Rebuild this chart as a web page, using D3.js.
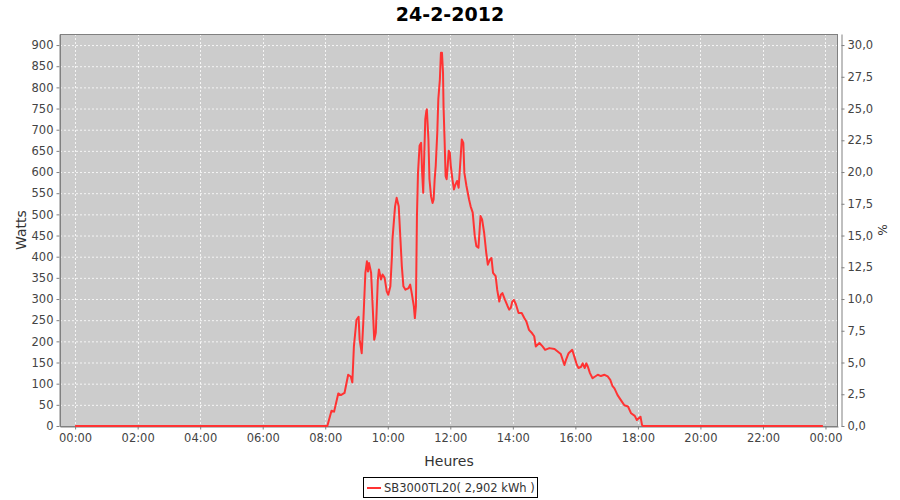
<!DOCTYPE html>
<html><head><meta charset="utf-8">
<script src="https://cdn.jsdelivr.net/npm/d3@7"></script>
<style>body{margin:0;background:#fff}</style>
</head><body>
<svg id="c" width="900" height="500"></svg>
<script>
const title = "24-2-2012";
const seriesName = "SB3000TL20( 2,902 kWh )";
const xTitle = "Heures";
const yTitle = "Watts";
const y2Title = "%";
const times = ["00:00","08:04","08:12","08:17","08:25","08:30","08:37","08:44","08:49","08:52","08:55","09:00","09:04","09:06","09:10","09:13","09:17","09:20","09:22","09:24","09:28","09:31","09:34","09:37","09:41","09:43","09:47","09:50","09:54","09:58","10:01","10:05","10:08","10:09","10:14","10:17","10:21","10:24","10:27","10:30","10:34","10:40","10:43","10:46","10:50","10:52","10:54","10:56","10:58","11:01","11:04","11:06","11:08","11:09","11:12","11:14","11:15","11:18","11:20","11:23","11:26","11:28","11:30","11:32","11:35","11:37","11:40","11:42","11:44","11:46","11:47","11:49","11:51","11:53","11:55","11:57","11:59","12:01","12:04","12:07","12:10","12:13","12:16","12:20","12:22","12:25","12:27","12:31","12:36","12:39","12:43","12:47","12:50","12:54","12:58","13:01","13:05","13:09","13:12","13:16","13:19","13:22","13:27","13:30","13:34","13:37","13:40","13:45","13:50","13:53","13:56","13:59","14:02","14:06","14:11","14:17","14:22","14:26","14:31","14:37","14:41","14:44","14:51","14:57","15:02","15:10","15:20","15:26","15:32","15:39","15:42","15:47","15:54","15:58","16:03","16:06","16:11","16:14","16:18","16:21","16:24","16:28","16:33","16:38","16:43","16:49","16:56","17:02","17:07","17:11","17:15","17:21","17:28","17:34","17:41","17:47","17:54","17:58","18:05","18:08","18:10","23:55"];
const watts = [0,0,36,34,77,73,78,121,117,103,188,251,258,204,172,244,362,389,365,385,362,283,204,220,346,370,346,358,350,318,310,330,401,441,519,539,519,448,377,330,322,326,334,314,283,255,283,496,598,662,669,598,551,598,725,744,748,677,583,543,527,535,583,614,693,772,819,882,882,835,756,677,590,583,614,650,646,614,583,559,571,579,563,638,677,669,598,567,535,519,504,448,425,421,496,488,456,409,381,393,397,362,354,322,294,310,314,298,283,275,279,294,298,287,267,267,255,247,227,219,212,188,196,188,180,184,182,176,170,144,156,172,180,164,144,137,140,148,137,148,140,125,113,117,121,118,121,117,109,95,89,73,60,49,46,30,24,14,22,2,0,0];
const xTickLabels = ["00:00","02:00","04:00","06:00","08:00","10:00","12:00","14:00","16:00","18:00","20:00","22:00","00:00"];
const yTickValues = [0,50,100,150,200,250,300,350,400,450,500,550,600,650,700,750,800,850,900];
const pctTickValues = [0,2.5,5,7.5,10,12.5,15,17.5,20,22.5,25,27.5,30];

const toMin = s => { const [h,m] = s.split(":").map(Number); return h*60+m; };
const data = times.map((t,i)=>({t:toMin(t), w:watts[i]}));

const L=60, R=838, T=34, B=426;
const svg = d3.select("#c");
const font = "DejaVu Sans, sans-serif";

const tMin = d3.min(data,d=>d.t), tMax = d3.max(data,d=>d.t);
const x = d3.scaleLinear().domain([tMin-29, tMax+29]).range([L,R]);
const yMax = d3.max(watts)*1.05;
const y = d3.scaleLinear().domain([0,yMax]).range([B,T]);
const y2 = d3.scaleLinear().domain([0,yMax/30]).range([B,T]);

// title
svg.append("text").attr("x",450).attr("y",21).attr("text-anchor","middle")
  .attr("font-family",font).attr("font-weight","bold").attr("font-size",19).attr("fill","#000").text(title);

// plot background
svg.append("rect").attr("x",L).attr("y",T).attr("width",R-L).attr("height",B-T).attr("fill","#cccccc");

// grid
const g = svg.append("g");
g.selectAll(".hg").data(yTickValues).join("line")
  .attr("x1",L).attr("x2",R).attr("y1",d=>y(d)+0.5).attr("y2",d=>y(d)+0.5)
  .attr("stroke","#fff").attr("stroke-width",0.8).attr("stroke-dasharray","2,2");
const xTickVals = xTickLabels.map((s,i)=>i*120);
g.selectAll(".vg").data(xTickVals).join("line")
  .attr("y1",T).attr("y2",B).attr("x1",d=>Math.round(x(d))+0.5).attr("x2",d=>Math.round(x(d))+0.5)
  .attr("stroke","#fff").attr("stroke-width",0.8).attr("stroke-dasharray","2,2");

// outline
svg.append("rect").attr("x",L+0.5).attr("y",T+0.5).attr("width",R-L-1).attr("height",B-T).attr("fill","none").attr("stroke","#808080").attr("stroke-width",1);

function styleAxis(sel){
  sel.select(".domain").attr("stroke","#808080");
  sel.selectAll(".tick line").attr("stroke","#808080");
  sel.selectAll(".tick text").attr("fill","#444").attr("font-family",font).attr("font-size",11.5);
}
// left axis
const ya = svg.append("g").attr("transform",`translate(${L-0.5},0)`)
  .call(d3.axisLeft(y).tickValues(yTickValues).tickSize(3).tickPadding(3).tickSizeOuter(0));
styleAxis(ya);
// right axis
const fmtPct = d => d3.format(".1f")(d).replace(".",",");
const y2a = svg.append("g").attr("transform",`translate(${R+3.5},0)`)
  .call(d3.axisRight(y2).tickValues(pctTickValues).tickFormat(fmtPct).tickSize(3).tickPadding(3).tickSizeOuter(0));
styleAxis(y2a);
// bottom axis
const xa = svg.append("g").attr("transform",`translate(0,${B+0.5})`)
  .call(d3.axisBottom(x).tickValues(xTickVals).tickFormat((d,i)=>xTickLabels[i]).tickSize(3).tickPadding(4).tickSizeOuter(0));
styleAxis(xa);

// line (on top, so the zero segments stay visible)
svg.append("clipPath").attr("id","cp").append("rect").attr("x",L).attr("y",T-2).attr("width",R-L).attr("height",B-T+4);
svg.append("path").datum(data).attr("clip-path","url(#cp)")
  .attr("d", d3.line().x(d=>x(d.t)).y(d=>y(d.w)))
  .attr("fill","none").attr("stroke","#ff3333").attr("stroke-width",2).attr("stroke-linejoin","round");

// axis titles
svg.append("text").attr("transform","translate(26,230) rotate(-90)").attr("text-anchor","middle")
  .attr("font-family",font).attr("font-size",14).attr("fill","#333").text(yTitle);
svg.append("text").attr("transform","translate(878,230) rotate(90)").attr("text-anchor","middle")
  .attr("font-family",font).attr("font-size",12).attr("fill","#333").text(y2Title);
svg.append("text").attr("x",449).attr("y",466).attr("text-anchor","middle")
  .attr("font-family",font).attr("font-size",14).attr("fill","#333").text(xTitle);

// legend
const lg = svg.append("g");
lg.append("rect").attr("x",363.5).attr("y",477.5).attr("width",174).attr("height",20).attr("fill","#fff").attr("stroke","#000");
lg.append("line").attr("x1",367).attr("x2",381).attr("y1",488).attr("y2",488).attr("stroke","#ff3333").attr("stroke-width",2);
lg.append("text").attr("x",384).attr("y",492).attr("font-family",font).attr("font-size",11.5).attr("fill","#333").text(seriesName);
</script>
</body></html>
